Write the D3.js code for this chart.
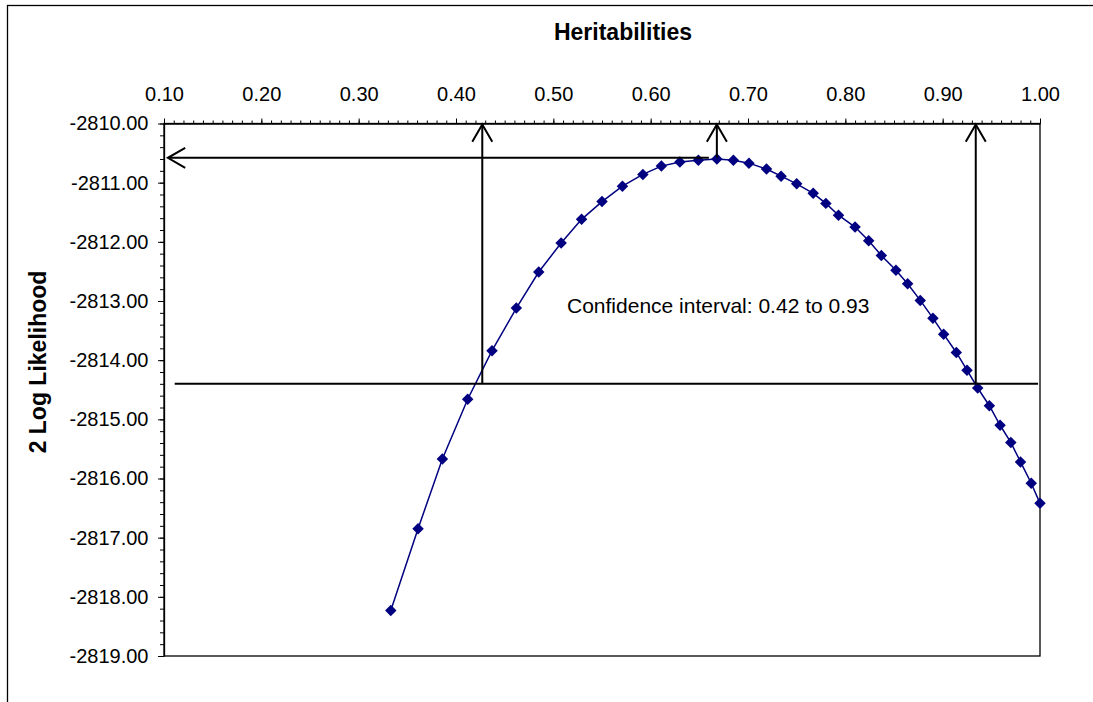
<!DOCTYPE html>
<html>
<head>
<meta charset="utf-8">
<script src="https://cdn.jsdelivr.net/npm/d3@7"></script>
<style>
  body { margin: 0; background: #fff; }
  text { font-family: "Liberation Sans", Arial, sans-serif; fill: #000; }
</style>
</head>
<body>
<script>
// heritability grid and the -2 log likelihood at each point
const heritability = [0.333, 0.361, 0.386, 0.412, 0.437, 0.462, 0.485, 0.508, 0.529, 0.550,
  0.571, 0.592, 0.611, 0.630, 0.649, 0.668, 0.685, 0.701, 0.719, 0.734,
  0.750, 0.767, 0.780, 0.793, 0.810, 0.824, 0.837, 0.852, 0.864, 0.877,
  0.890, 0.901, 0.914, 0.925, 0.936, 0.948, 0.959, 0.970, 0.980, 0.991, 1.000];
const logLik = [-2818.23, -2816.85, -2815.67, -2814.66, -2813.84, -2813.12, -2812.51, -2812.02, -2811.62, -2811.32,
  -2811.06, -2810.86, -2810.72, -2810.65, -2810.62, -2810.60, -2810.62, -2810.67, -2810.77, -2810.89,
  -2811.02, -2811.18, -2811.35, -2811.55, -2811.75, -2811.98, -2812.23, -2812.48, -2812.71, -2812.99,
  -2813.29, -2813.56, -2813.87, -2814.17, -2814.47, -2814.77, -2815.10, -2815.39, -2815.72, -2816.08, -2816.42];

const xTicks = [0.1, 0.2, 0.3, 0.4, 0.5, 0.6, 0.7, 0.8, 0.9, 1.0];
const yTicks = [-2810, -2811, -2812, -2813, -2814, -2815, -2816, -2817, -2818, -2819];

// maximum, confidence limits and cut-off line
const peak = {h: 0.668, l: -2810.58};
const ciLimits = [0.427, 0.934];
const ciLevel = -2814.40;
const ciText = 'Confidence interval: 0.42 to 0.93';

const width = 1093, height = 702;
const margin = {top: 123.5, right: 53, bottom: 46, left: 164};
const fmt = d => d.toFixed(2);   // plain hyphen minus, like Excel

const svg = d3.select('body').append('svg')
  .attr('width', width)
  .attr('height', height);

// chart area border (runs off the right and bottom of the picture)
svg.append('rect')
  .attr('x', 7.5).attr('y', 5.5)
  .attr('width', 1200).attr('height', 900)
  .attr('fill', 'none').attr('stroke', '#000').attr('stroke-width', 1.3);

const x = d3.scaleLinear().domain([0.1, 1.0]).range([margin.left, width - margin.right]);
const y = d3.scaleLinear().domain([-2819, -2810]).range([height - margin.bottom, margin.top]);

// plot area frame
svg.append('rect')
  .attr('x', x(0.1)).attr('y', y(-2810))
  .attr('width', x(1.0) - x(0.1)).attr('height', y(-2819) - y(-2810))
  .attr('fill', 'none').attr('stroke', '#000').attr('stroke-width', 1.3);

// top axis: minor ticks then labelled major ticks
svg.append('g')
  .attr('transform', `translate(0, ${y(-2810)})`)
  .call(d3.axisTop(x).tickValues(d3.range(10, 101).map(d => d / 100)).tickSize(3).tickSizeOuter(0).tickFormat(''))
  .call(g => g.select('.domain').remove());

svg.append('g')
  .attr('transform', `translate(0, ${y(-2810)})`)
  .call(d3.axisTop(x).tickValues(xTicks).tickSize(5).tickSizeOuter(0).tickPadding(18).tickFormat(fmt))
  .call(g => g.select('.domain').attr('stroke-width', 1.3))
  .call(g => g.selectAll('text').attr('font-size', 20).attr('font-family', '"Liberation Sans", Arial, sans-serif'));

// left axis
svg.append('g')
  .attr('transform', `translate(${x(0.1)}, 0)`)
  .call(d3.axisLeft(y).tickValues(d3.range(0, 46).map(i => -2819 + i * 0.2)).tickSize(4).tickSizeOuter(0).tickFormat(''))
  .call(g => g.select('.domain').remove());

svg.append('g')
  .attr('transform', `translate(${x(0.1)}, 0)`)
  .call(d3.axisLeft(y).tickValues(yTicks).tickSize(6).tickSizeOuter(0).tickPadding(9.5).tickFormat(fmt))
  .call(g => g.select('.domain').attr('stroke-width', 1.3))
  .call(g => g.selectAll('text').attr('font-size', 20).attr('font-family', '"Liberation Sans", Arial, sans-serif'));

// titles
svg.append('text')
  .attr('x', 623).attr('y', 40)
  .attr('text-anchor', 'middle')
  .attr('font-size', 23).attr('font-weight', 'bold')
  .text('Heritabilities');

svg.append('text')
  .attr('transform', 'translate(46, 362) rotate(-90)')
  .attr('text-anchor', 'middle')
  .attr('font-size', 23).attr('font-weight', 'bold')
  .text('2 Log Likelihood');

// the likelihood curve
const pts = heritability.map((h, i) => ({h: h, l: logLik[i]}));

svg.append('path')
  .datum(pts)
  .attr('fill', 'none')
  .attr('stroke', '#000080')
  .attr('stroke-width', 1.5)
  .attr('d', d3.line().x(d => x(d.h)).y(d => y(d.l)));

svg.selectAll('.pt')
  .data(pts)
  .enter()
  .append('path')
  .attr('class', 'pt')
  .attr('fill', '#000080')
  .attr('transform', d => `translate(${x(d.h)}, ${y(d.l)}) rotate(45)`)
  .attr('d', d3.symbol(d3.symbolSquare, 66));

// drawn lines and arrows
const ink = svg.append('g')
  .attr('fill', 'none')
  .attr('stroke', '#000')
  .attr('stroke-width', 2);

function arrow(x1, y1, x2, y2) {
  const a = Math.atan2(y2 - y1, x2 - x1);
  const len = 20, spread = Math.PI / 6;
  ink.append('line').attr('x1', x1).attr('y1', y1).attr('x2', x2).attr('y2', y2);
  ink.append('path').attr('d', d3.line()([
    [x2 - len * Math.cos(a - spread), y2 - len * Math.sin(a - spread)],
    [x2, y2],
    [x2 - len * Math.cos(a + spread), y2 - len * Math.sin(a + spread)]
  ]));
}

// cut-off line
ink.append('line')
  .attr('x1', x(0.111)).attr('x2', x(0.998))
  .attr('y1', y(ciLevel)).attr('y2', y(ciLevel));

// from the maximum across to the likelihood axis, and up to the heritability axis
arrow(x(peak.h) - 8, y(peak.l), x(0.104), y(peak.l));
arrow(x(peak.h), y(peak.l), x(peak.h), y(-2810) + 1);
ciLimits.forEach(h => arrow(x(h), y(ciLevel), x(h), y(-2810) + 1));

svg.append('text')
  .attr('x', 567).attr('y', 313)
  .attr('font-size', 21)
  .text(ciText);
</script>
</body>
</html>
